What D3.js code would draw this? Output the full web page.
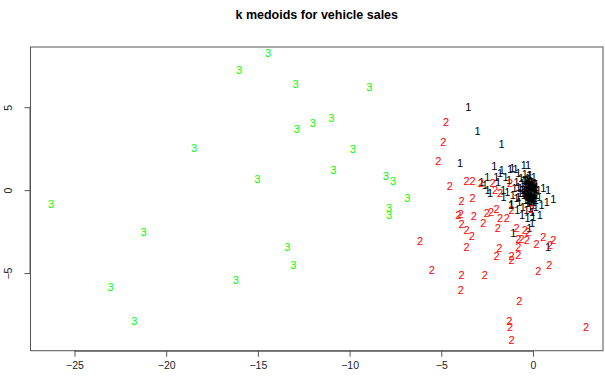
<!DOCTYPE html>
<html><head><meta charset="utf-8">
<script src="https://cdn.jsdelivr.net/npm/d3@7"></script>
<style>body{margin:0;background:#fff;}svg{display:block;font-family:"Liberation Sans",Arial,sans-serif;}</style>
</head><body>
<svg id="c" width="605" height="381"></svg>
<script>
const title = "k medoids for vehicle sales";
const xTicks = [-25, -20, -15, -10, -5, 0];
const yTicks = [-5, 0, 5];
const clusterColors = {1: "#000000", 2: "#ff0000", 3: "#00ff00"};

// cluster 1 (black)
const c1x = [-3.53,-3.02,-1.71,-3.98,-2.11,-1.80,-2.49,-0.26,-1.13,-1.25,-0.80,-0.16,-2.80,-2.62,-2.47,-2.34,0.56,0.83,1.11,0.75,0.47,0.38,0.02,-1.16,-1.07,0.83,-1.62,
  -0.5,-0.3,-0.1,0.1,0.2,-0.4,-0.2,0.0,-0.6,-0.3,-0.1,0.1,0.2,-0.5,-0.2,0.0,-0.4,-0.1,0.1,-0.3,0.0,-0.6,-0.7,-0.8,-0.9,-1.0,-1.1,-0.9,0.3,0.35,-0.2,-0.45,0.05,-0.15,-0.35,0.15,-0.05,-0.55,-0.25,-0.65,-0.75,-1.3,-1.5,-1.4,-1.6,-1.2,-0.85,-0.6,-0.3,-0.05,-0.2,-1.9,-2.0,-1.7,-0.95,-0.5,
  -0.45,-0.25,-0.05,0.15,-0.35,-0.15,0.05,-0.55,-0.4,-0.2,0.0,-0.3,-0.1,-0.7,-0.8,
  -0.42,-0.32,-0.22,-0.12,-0.02,0.08,0.18,-0.38,-0.28,-0.18,-0.08,0.02,0.12,-0.48,-0.36,-0.26,-0.16,-0.06,0.04,0.14,-0.44,-0.34,-0.24,-0.14,-0.04,0.06,0.16,-0.30,-0.20,-0.10,0.0,0.10,-0.46,-0.33,-0.23,-0.13,-0.03,0.07,-0.27,-0.17,-0.07,0.03];
const c1y = [5.0,3.57,2.77,1.63,1.48,1.02,0.82,1.52,1.36,1.28,1.02,0.92,0.50,0.30,0.0,-0.16,0.10,0.0,-0.51,-0.70,-0.90,-1.51,-1.61,-0.81,-2.61,-3.42,0.0,
  0.6,0.7,0.5,0.4,0.2,0.3,0.2,0.1,0.0,-0.1,-0.2,-0.1,-0.3,-0.3,-0.4,-0.5,-0.6,-0.7,-0.6,-0.8,-0.9,0.4,-0.2,0.2,0.5,0.1,-0.3,-0.5,0.0,-0.4,0.9,1.0,0.8,-1.1,-1.2,-1.0,-1.3,-1.0,0.35,0.75,-0.7,0.6,0.8,-0.1,-0.4,-0.9,-1.2,-1.5,-1.7,-2.0,-2.3,0.5,0.8,1.2,1.3,1.5,
  0.15,0.45,0.25,0.05,-0.05,-0.35,-0.25,-0.15,0.55,0.05,0.35,-0.55,-0.45,0.1,-0.4,
  0.62,0.58,0.66,0.52,0.48,0.44,0.36,0.28,0.32,0.24,0.18,0.12,0.08,0.02,-0.02,-0.08,-0.12,-0.18,-0.22,-0.28,-0.32,-0.36,-0.42,-0.46,-0.52,-0.48,-0.58,0.42,0.38,0.30,0.22,0.14,-0.12,-0.20,-0.26,-0.34,-0.40,-0.50,-0.62,-0.66,-0.70,-0.74];

// cluster 2 (red)
const c2x = [-4.74,-4.89,-5.16,-4.53,-3.62,-3.29,-3.89,-3.29,-4.07,-3.93,-3.22,-3.89,-3.62,-3.34,-6.16,-3.62,-2.52,-2.71,-1.98,-1.92,-1.84,-1.98,-1.80,-5.52,-3.89,-2.62,-3.94,-1.16,0.89,0.29,-0.75,-1.29,-1.25,2.89,-1.16,
  -0.07,-1.16,-1.43,-0.89,-0.44,-0.26,-0.80,-0.62,-0.34,0.20,0.56,1.11,0.93,-0.80,-0.80,-1.16,-2.20,-2.07,-2.29,-1.80,-1.25,-2.84];
const c2y = [4.13,2.87,1.78,0.26,0.54,0.56,-0.65,-0.46,-1.51,-1.45,-1.57,-2.07,-2.41,-2.77,-3.07,-3.42,-1.41,-2.01,-1.11,-2.31,-3.52,-3.98,-0.20,-4.80,-5.10,-5.10,-6.05,-4.24,-4.50,-4.90,-6.71,-7.92,-8.25,-8.25,-9.02,
  -1.11,-1.20,-1.71,-2.31,-2.41,-2.51,-2.92,-2.92,-3.01,-3.22,-2.81,-3.01,-3.31,-3.42,-3.92,-3.98,0.44,0.0,-1.31,-1.71,0.40,0.40];

// cluster 3 (green)
const c3x = [-14.45,-16.03,-12.94,-8.93,-11.0,-12.0,-12.88,-18.48,-9.83,-10.89,-15.03,-8.03,-7.63,-26.28,-7.84,-7.84,-21.23,-13.40,-13.07,-16.21,-23.03,-21.74,-6.85];
const c3y = [8.29,7.23,6.40,6.20,4.36,4.07,3.67,2.53,2.45,1.24,0.64,0.88,0.56,-0.83,-1.08,-1.53,-2.55,-3.42,-4.50,-5.39,-5.83,-7.92,-0.48];

const points = [];
c1x.forEach((v,i)=>points.push({x:v,y:c1y[i],k:1}));
c2x.forEach((v,i)=>points.push({x:v,y:c2y[i],k:2}));
c3x.forEach((v,i)=>points.push({x:v,y:c3y[i],k:3}));

const L = 30.5, R = 603, T = 47, B = 350.7;
const x = d3.scaleLinear().domain([-27.4, 3.82]).range([L, R]);
const y = d3.scaleLinear().domain([-9.68, 8.63]).range([B, T]);

const svg = d3.select("#c");

svg.append("text").attr("x", (L+R)/2).attr("y", 19).attr("text-anchor","middle")
  .attr("font-size", 12.5).attr("font-weight","bold").attr("fill","#000").text(title);

svg.append("g").selectAll("text").data(points).join("text")
  .attr("x", d=>x(d.x)).attr("y", d=>y(d.y)).attr("dy","0.36em")
  .attr("text-anchor","middle").attr("font-size", 11)
  .attr("fill", d=>clusterColors[d.k]).text(d=>d.k);

svg.append("rect").attr("x",L).attr("y",T).attr("width",R-L).attr("height",B-T)
  .attr("fill","none").attr("stroke","#555").attr("stroke-width",1);

const xa = svg.append("g").attr("transform",`translate(0,${B})`)
  .call(d3.axisBottom(x).tickValues(xTicks).tickSize(6).tickPadding(5).tickFormat(d3.format("d")));
xa.select(".domain").attr("d", `M${x(-25)},0.5H${x(0)}`).attr("stroke","#555");
xa.selectAll(".tick line").attr("stroke","#555");
xa.selectAll(".tick text").attr("font-size",10.5).attr("fill","#222").attr("font-family","Liberation Sans, Arial, sans-serif");

const ya = svg.append("g").attr("transform",`translate(${L},0)`)
  .call(d3.axisLeft(y).tickValues(yTicks).tickSize(6).tickFormat(d3.format("d")));
ya.select(".domain").attr("d", `M-0.5,${y(-5)}V${y(5)}`).attr("stroke","#555");
ya.selectAll(".tick line").attr("stroke","#555");
ya.selectAll(".tick text").attr("font-size",10.5).attr("fill","#222").attr("font-family","Liberation Sans, Arial, sans-serif")
  .attr("x",0).attr("dy",0).attr("text-anchor","middle")
  .attr("transform","translate(-19,0) rotate(-90)");
</script>
</body></html>
